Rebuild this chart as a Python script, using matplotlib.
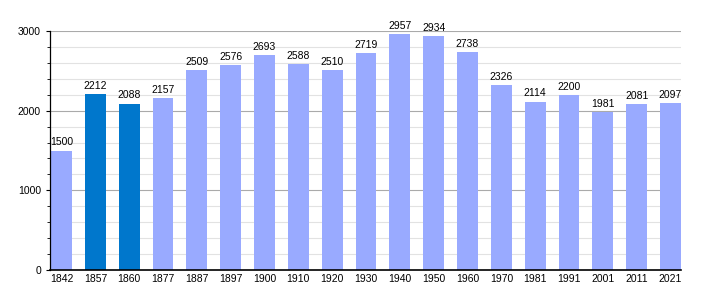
import numpy as np
import matplotlib
matplotlib.use("Agg")
from matplotlib import pyplot as plt
from matplotlib.ticker import MultipleLocator

years = ['1842', '1857', '1860', '1877', '1887', '1897', '1900', '1910', '1920', '1930',
         '1940', '1950', '1960', '1970', '1981', '1991', '2001', '2011', '2021']
population = [1500, 2212, 2088, 2157, 2509, 2576, 2693, 2588, 2510, 2719,
              2957, 2934, 2738, 2326, 2114, 2200, 1981, 2081, 2097]
highlighted = ['1857', '1860']

LIGHT = '#99aaff'
DARK = '#0077cc'

plt.rcParams['font.family'] = ['Liberation Sans', 'DejaVu Sans']

fig = plt.figure(figsize=(7.1, 3.0), dpi=100)
ax = fig.add_axes([50 / 710, 30 / 300, 631 / 710, 239 / 300])

x = np.arange(len(years))
w = 0.62
colors = [DARK if y in highlighted else LIGHT for y in years]
bars = ax.bar(x, population, width=w, align='edge', color=colors, zorder=2)

# gridlines: light every 200, darker every 1000
for v in range(200, 3001, 200):
    c = '#aaaaaa' if v % 1000 == 0 else '#e2e2e2'
    ax.axhline(v, color=c, lw=0.8, zorder=1)

for xi, v in zip(x, population):
    ax.text(xi + w / 2, v + 40, str(v), ha='center', va='bottom', fontsize=7.5, zorder=3)

ax.set_xlim(-0.03, len(years) - 1 + w)
ax.set_ylim(0, 3000)
ax.set_xticks(x + w / 2)
ax.set_xticklabels(years, fontsize=7.5)
ax.yaxis.set_major_locator(MultipleLocator(1000))
ax.yaxis.set_minor_locator(MultipleLocator(200))
ax.tick_params(axis='y', labelsize=7.5, length=3, width=0.8)
ax.tick_params(axis='y', which='minor', length=2)
ax.tick_params(axis='x', length=0, pad=3)

for side in ['top', 'right']:
    ax.spines[side].set_visible(False)
ax.spines['left'].set_linewidth(0.9)
ax.spines['bottom'].set_linewidth(1.2)

fig.savefig('out.png', dpi=100)
